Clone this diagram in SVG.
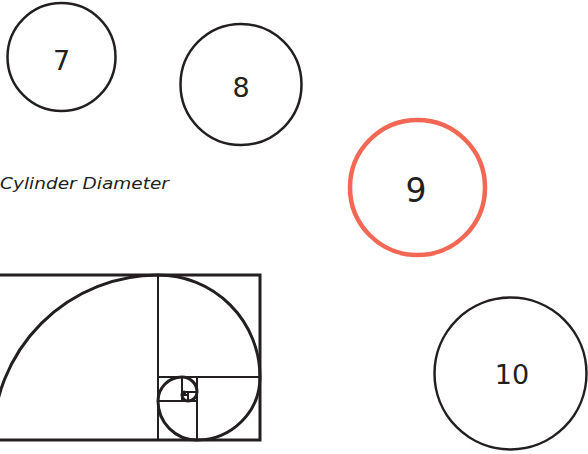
<svg xmlns="http://www.w3.org/2000/svg" width="588" height="454" viewBox="0 0 588 454">
<style>
.c{fill:none;stroke:#231f20;stroke-width:2.5}
.n{font-family:"DejaVu Sans",Verdana,sans-serif;fill:#231f20;text-anchor:middle}
.g{fill:none;stroke:#231f20;stroke-width:2}
.sp{fill:none;stroke:#231f20;stroke-width:3}
</style>
<rect width="588" height="454" fill="#fff"/>
<g id="node-7"><circle class="c" cx="61.5" cy="57" r="54"/><text class="n" x="61.5" y="70" font-size="27">7</text></g>
<g id="node-8"><circle class="c" cx="241" cy="84.5" r="60.5"/><text class="n" x="241" y="97" font-size="27">8</text></g>
<g id="node-9"><circle cx="417.5" cy="187.5" r="67.5" fill="none" stroke="#f26855" stroke-width="4.5"/><text class="n" x="416" y="201.5" font-size="33">9</text></g>
<g id="node-10"><circle class="c" cx="510.5" cy="373.5" r="76"/><text class="n" x="512" y="384" font-size="27">10</text></g>
<g id="label"><text x="0" y="188.5" font-family="'DejaVu Sans',Verdana,sans-serif" font-style="italic" font-size="16.5" fill="#231f20" textLength="169" lengthAdjust="spacingAndGlyphs">Cylinder Diameter</text></g>
<g id="golden-spiral">
<rect x="-7" y="275" width="267" height="165" fill="none" stroke="#231f20" stroke-width="3"/>
<path class="g" d="M158,275V440 M158,377H260 M197,377V440 M158,401H197 M182,377V401 M182,392H197 M188,392V401 M182,395H188 M185,392V395"/>
<path class="sp" d="M-7,440 A165,165 0 0 1 158,275 A102,102 0 0 1 260,377 A63,63 0 0 1 197,440 A39,39 0 0 1 158,401 A24,24 0 0 1 182,377 A15,15 0 0 1 197,392 A9,9 0 0 1 188,401 A6,6 0 0 1 182,395 A3,3 0 0 1 185,392"/>
</g>
<g id="connectors"></g>
</svg>
